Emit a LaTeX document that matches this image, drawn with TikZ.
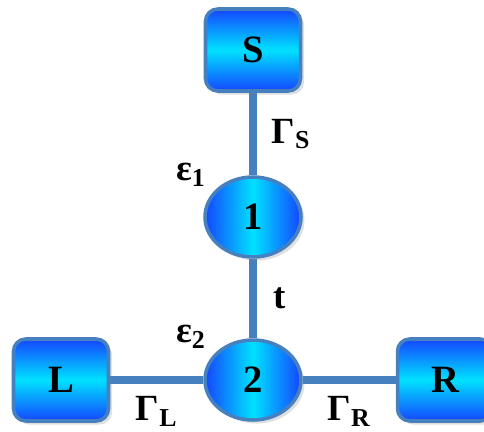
\documentclass[tikz,border=0pt]{standalone}
\usepackage{amsmath}
\usepackage{fontspec}
\setmainfont{Liberation Serif}
\usepackage{tikz}
\usetikzlibrary{positioning,shapes,backgrounds,shadows}
\usepackage{xcolor}
\definecolor{EdgeBlue}{RGB}{70,128,190}
\definecolor{DeepBlue}{RGB}{20,70,255}
\definecolor{LightCyan}{RGB}{0,225,255}

\begin{document}
\begin{tikzpicture}[
    lead/.style={rectangle, rounded corners=7pt, draw=EdgeBlue, line width=2pt,
        top color=DeepBlue, bottom color=DeepBlue, middle color=LightCyan,
        minimum width=1.9cm, minimum height=1.64cm, text=black,
        drop shadow={opacity=0.25, shadow xshift=2pt, shadow yshift=-2pt},
        font=\fontsize{22}{24}\selectfont\bfseries},
    dot/.style={ellipse, draw=EdgeBlue, line width=2pt,
        left color=DeepBlue, right color=DeepBlue, middle color=LightCyan,
        minimum width=1.92cm, minimum height=1.6cm, inner sep=0pt, text=black,
        drop shadow={opacity=0.25, shadow xshift=2pt, shadow yshift=-2pt},
        font=\fontsize{22}{24}\selectfont\bfseries},
    link/.style={EdgeBlue, line width=4.5pt},
    coup/.style={text=black, inner sep=1pt, font=\fontsize{21}{24}\selectfont\bfseries},
]
\useasboundingbox (0,0) rectangle (9.68,-8.64);

\node[lead] (S) at (5.06,-1.0) {S};
\node[dot] (d1) at (5.06,-4.34) {1};
\node[dot] (d2) at (5.06,-7.6) {2};
\node[lead] (L) at (1.22,-7.6) {L};
\node[lead] (R) at (8.9,-7.6) {R};

\begin{scope}[on background layer]
\draw[link] (S) -- (d1) node[coup, midway, right=0.26cm] {$\text{Γ}_{\text{S}}$};
\draw[link] (d1) -- (d2) node[coup, midway, right=0.3cm] {t};
\draw[link] (L) -- (d2) node[coup, midway, below=0.22cm] {$\text{Γ}_{\text{L}}$};
\draw[link] (d2) -- (R) node[coup, midway, below=0.22cm] {$\text{Γ}_{\text{R}}$};
\end{scope}

\node[coup] (e1) at (3.82,-3.5) {$\text{ε}_{\text{1}}$};
\node[coup] (e2) at (3.82,-6.74) {$\text{ε}_{\text{2}}$};
\end{tikzpicture}
\end{document}
